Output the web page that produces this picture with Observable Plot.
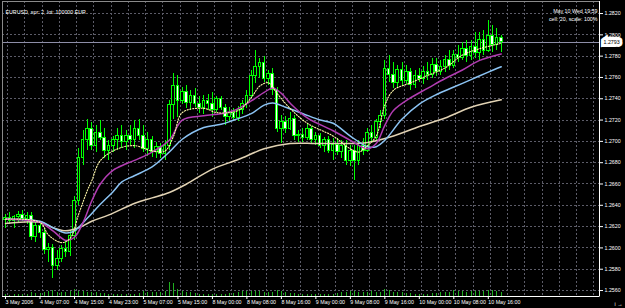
<!DOCTYPE html>
<html><head><meta charset="utf-8">
<script src="https://cdn.jsdelivr.net/npm/d3@7"></script>
<script src="https://cdn.jsdelivr.net/npm/@observablehq/plot@0.6"></script>
<style>
html,body{margin:0;padding:0;background:#000;}
#chart{position:relative;width:625px;height:308px;background:#000;overflow:hidden;}
#chart svg{position:absolute;left:0;top:0;}
</style></head><body><div id="chart"></div>
<script>
const symbolInfo = "EURUSD, spr: 2, lot: 100000 EUR";
const infoTime = "May 10 Wed 19:59";
const infoScale = "cell: 20, scale: 100%";

// H1 bars, 3 May 23:00 .. 10 May 19:00 (index 0..115)
const open  = [1.2626,1.2628,1.2625,1.2629,1.2631,1.2627,1.2630,1.2610,1.2621,1.2614,1.2598,1.2600,1.2583,1.2590,1.2599,1.2596,1.2611,1.2644,1.2684,1.2701,1.2712,1.2696,1.2708,1.2703,1.2691,1.2696,1.2701,1.2705,1.2699,1.2705,1.2701,1.2712,1.2705,1.2693,1.2701,1.2690,1.2695,1.2688,1.2696,1.2734,1.2752,1.2738,1.2746,1.2736,1.2743,1.2735,1.2731,1.2738,1.2735,1.2729,1.2740,1.2731,1.2723,1.2727,1.2722,1.2729,1.2735,1.2743,1.2761,1.2770,1.2774,1.2759,1.2763,1.2748,1.2712,1.2718,1.2712,1.2721,1.2705,1.2706,1.2703,1.2712,1.2701,1.2705,1.2696,1.2701,1.2691,1.2697,1.2690,1.2696,1.2682,1.2691,1.2682,1.2696,1.2691,1.2708,1.2703,1.2718,1.2724,1.2768,1.2762,1.2755,1.2767,1.2757,1.2765,1.2753,1.2761,1.2759,1.2765,1.2762,1.2772,1.2765,1.2770,1.2776,1.2771,1.2781,1.2778,1.2787,1.2780,1.2789,1.2783,1.2795,1.2785,1.2799,1.2790,1.2797];
const high  = [1.2631,1.2633,1.2630,1.2634,1.2635,1.2633,1.2633,1.2626,1.2624,1.2618,1.2604,1.2603,1.2598,1.2602,1.2607,1.2616,1.2648,1.2693,1.2710,1.2721,1.2718,1.2715,1.2720,1.2712,1.2701,1.2705,1.2712,1.2715,1.2710,1.2715,1.2720,1.2721,1.2715,1.2708,1.2705,1.2699,1.2698,1.2701,1.2738,1.2764,1.2762,1.2751,1.2752,1.2748,1.2750,1.2742,1.2743,1.2744,1.2746,1.2742,1.2742,1.2735,1.2732,1.2731,1.2733,1.2738,1.2748,1.2767,1.2785,1.2778,1.2780,1.2767,1.2768,1.2751,1.2724,1.2723,1.2727,1.2724,1.2710,1.2712,1.2716,1.2714,1.2708,1.2707,1.2704,1.2705,1.2703,1.2703,1.2701,1.2701,1.2696,1.2696,1.2701,1.2703,1.2712,1.2715,1.2721,1.2729,1.2776,1.2781,1.2774,1.2771,1.2774,1.2771,1.2768,1.2767,1.2768,1.2770,1.2774,1.2778,1.2778,1.2776,1.2781,1.2785,1.2785,1.2790,1.2793,1.2795,1.2795,1.2802,1.2802,1.2804,1.2813,1.2809,1.2806,1.2799];
const low   = [1.2618,1.2622,1.2618,1.2624,1.2625,1.2622,1.2607,1.2605,1.2609,1.2594,1.2586,1.2571,1.2579,1.2586,1.2591,1.2592,1.2607,1.2640,1.2677,1.2691,1.2691,1.2690,1.2701,1.2684,1.2682,1.2690,1.2691,1.2693,1.2691,1.2696,1.2693,1.2701,1.2690,1.2686,1.2685,1.2684,1.2684,1.2682,1.2691,1.2721,1.2722,1.2735,1.2731,1.2729,1.2732,1.2726,1.2725,1.2729,1.2722,1.2727,1.2729,1.2715,1.2718,1.2719,1.2719,1.2725,1.2731,1.2740,1.2754,1.2759,1.2755,1.2752,1.2743,1.2708,1.2698,1.2707,1.2710,1.2701,1.2699,1.2699,1.2701,1.2698,1.2696,1.2693,1.2690,1.2689,1.2682,1.2687,1.2684,1.2677,1.2676,1.2663,1.2677,1.2687,1.2690,1.2699,1.2701,1.2712,1.2721,1.2755,1.2750,1.2750,1.2752,1.2753,1.2748,1.2750,1.2755,1.2753,1.2757,1.2759,1.2761,1.2762,1.2765,1.2767,1.2768,1.2774,1.2776,1.2774,1.2776,1.2778,1.2776,1.2781,1.2783,1.2783,1.2785,1.2783];
const close = [1.2628,1.2625,1.2629,1.2631,1.2627,1.2630,1.2610,1.2621,1.2614,1.2598,1.2600,1.2583,1.2590,1.2599,1.2596,1.2611,1.2644,1.2684,1.2701,1.2712,1.2696,1.2708,1.2703,1.2691,1.2696,1.2701,1.2705,1.2699,1.2705,1.2701,1.2712,1.2705,1.2693,1.2701,1.2690,1.2695,1.2688,1.2696,1.2734,1.2752,1.2738,1.2746,1.2736,1.2743,1.2735,1.2731,1.2738,1.2735,1.2729,1.2740,1.2731,1.2723,1.2727,1.2722,1.2729,1.2735,1.2743,1.2761,1.2770,1.2774,1.2759,1.2763,1.2748,1.2712,1.2718,1.2712,1.2721,1.2705,1.2706,1.2703,1.2712,1.2701,1.2705,1.2696,1.2701,1.2691,1.2697,1.2690,1.2696,1.2682,1.2691,1.2682,1.2696,1.2691,1.2708,1.2703,1.2718,1.2724,1.2768,1.2762,1.2755,1.2767,1.2757,1.2765,1.2753,1.2761,1.2759,1.2765,1.2762,1.2772,1.2765,1.2770,1.2776,1.2771,1.2781,1.2778,1.2787,1.2780,1.2789,1.2783,1.2795,1.2785,1.2799,1.2790,1.2797,1.2793];
const volume = [40,35,50,45,40,60,90,80,70,110,120,140,100,90,110,120,170,150,130,110,100,90,80,70,50,40,45,50,40,45,60,80,120,100,90,100,110,130,340,320,170,120,110,90,80,60,50,40,
  60,50,55,60,70,80,110,120,140,160,130,120,110,100,90,140,120,100,80,70,60,50,45,40,
  45,40,50,55,60,80,100,110,120,130,110,100,90,120,110,100,180,140,110,100,90,80,70,60,
  60,55,60,70,80,90,100,110,150,130,120,110,120,130,140,150,160,140,120,100];

// moving averages (bar index, price)
const maSlowIdx = [0,8,11,14,17,20,24,30,34,38,42,48,54,60,66,72,78,84,90,96,102,108,115];
const maSlowVal = [1.2623,1.2624,1.2619,1.2616,1.2619,1.2625,1.2631,1.2642,1.2647,1.2652,1.2660,1.2674,1.2683,1.2693,1.2698,1.2698,1.2698,1.2699,1.2705,1.2714,1.2722,1.2732,1.2739];
const maBlueIdx = [0,8,11,14,16,19,22,25,27,30,34,38,41,46,50,53,57,60,62,65,69,73,76,80,84,86,88,92,96,100,104,108,112,115];
const maBlueVal = [1.2627,1.2625,1.2619,1.2614,1.2616,1.2628,1.2641,1.2653,1.2662,1.2668,1.2676,1.2690,1.2702,1.2713,1.2716,1.2720,1.2726,1.2734,1.2736,1.2732,1.2726,1.2720,1.2717,1.2705,1.2695,1.2695,1.2701,1.2721,1.2735,1.2744,1.2751,1.2758,1.2765,1.2770];
const maMagIdx = [0,8,11,14,16,18,20,22,25,28,31,34,38,41,46,50,53,57,60,62,64,66,70,76,80,84,86,88,90,94,98,102,106,110,115];
const maMagVal = [1.2627,1.2624,1.2616,1.2607,1.2610,1.2624,1.2644,1.2660,1.2673,1.2679,1.2684,1.2690,1.2701,1.2720,1.2724,1.2726,1.2729,1.2738,1.2746,1.2750,1.2745,1.2736,1.2722,1.2710,1.2701,1.2693,1.2698,1.2715,1.2729,1.2741,1.2750,1.2759,1.2767,1.2776,1.2782];
const maFastIdx = [0,8,10,13,15,17,19,20,22,26,30,34,37,39,41,46,49,54,57,59,61,63,66,70,76,80,82,84,86,88,90,94,98,102,106,110,115];
const maFastVal = [1.2627,1.2624,1.2612,1.2605,1.2609,1.2632,1.2654,1.2663,1.2682,1.2693,1.2696,1.2691,1.2691,1.2705,1.2727,1.2731,1.2727,1.2729,1.2741,1.2752,1.2755,1.2745,1.2731,1.2717,1.2705,1.2693,1.2690,1.2696,1.2705,1.2734,1.2748,1.2755,1.2762,1.2769,1.2781,1.2787,1.2792];

const xLabelIdx = [0,8,16,24,32,40,48,56,64,72,80,88,96,104,112];
const xLabels = ["3 May 2006","4 May 07:00","4 May 15:00","4 May 23:00","5 May 07:00","5 May 15:00","8 May 00:00","8 May 08:00","8 May 16:00","9 May 00:00","9 May 08:00","9 May 16:00","10 May 00:00","10 May 08:00","10 May 16:00"];
const yTicks = [1.2560,1.2580,1.2600,1.2620,1.2640,1.2660,1.2680,1.2700,1.2720,1.2740,1.2760,1.2780,1.2800,1.2820];

const bars = open.map((o, i) => ({i, open: o, high: high[i], low: low[i], close: close[i], vol: volume[i]}));
const lastClose = close[close.length - 1];
const pts = (idx, val) => idx.map((d, k) => ({i: d, v: val[k]}));

const xDomain = [-0.7, 137.8];
const yDomain = [1.25544, 1.28313];
const font = "'Liberation Sans', Arial, sans-serif";
const gridColor = "#5c5c68";
const fmt = d3.format(".4f");
const crisp = "crispEdges";

const common = {width: 625, height: 308, marginLeft: 2, marginRight: 26, marginBottom: 12};

const volPlot = Plot.plot({
  ...common, marginTop: 256,
  style: {background: "transparent"},
  x: {domain: xDomain, axis: null},
  y: {domain: [0, 1000], axis: null},
  marks: [Plot.ruleX(bars, {x: "i", y1: 0, y2: "vol", stroke: "#1fb01f", shapeRendering: crisp})]
});

const mainPlot = Plot.plot({
  ...common, marginTop: 1,
  style: {background: "transparent", color: "#fff", fontFamily: font, fontSize: "5.3px"},
  x: {domain: xDomain, axis: null},
  y: {domain: yDomain, axis: null},
  marks: [
    Plot.ruleY(yTicks, {stroke: gridColor, strokeDasharray: "2,2", shapeRendering: crisp}),
    Plot.ruleX(d3.range(0.5, 138, 4), {stroke: gridColor, strokeDasharray: "2,2", shapeRendering: crisp}),
    Plot.ruleY([lastClose], {stroke: "#8e8ea8", shapeRendering: crisp}),
    Plot.ruleX(bars, {x: "i", y1: "low", y2: "high", stroke: "#00ff00", shapeRendering: crisp}),
    Plot.rect(bars, {x1: d => d.i - 0.3, x2: d => d.i + 0.3, y1: "open", y2: "close",
      fill: d => d.close >= d.open ? "#000" : "#fff", stroke: "#00ff00", strokeWidth: 1, shapeRendering: crisp}),
    Plot.line(pts(maSlowIdx, maSlowVal), {x: "i", y: "v", stroke: "#e2d3b4", curve: "catmull-rom"}),
    Plot.line(pts(maBlueIdx, maBlueVal), {x: "i", y: "v", stroke: "#8cc4f4", curve: "catmull-rom"}),
    Plot.line(pts(maMagIdx, maMagVal), {x: "i", y: "v", stroke: "#b23cb2", curve: "catmull-rom"}),
    Plot.line(pts(maFastIdx, maFastVal), {x: "i", y: "v", stroke: "#fff8a8", strokeWidth: 1.1, strokeDasharray: "1.2,1.6", curve: "catmull-rom"}),
    Plot.frame({stroke: "#8a8a8a", shapeRendering: crisp}),
    Plot.ruleX([xDomain[1]], {stroke: "#fff", shapeRendering: crisp}),
    Plot.ruleY([yDomain[0]], {stroke: "#fff", shapeRendering: crisp}),
    Plot.axisY({anchor: "right", ticks: yTicks, tickFormat: fmt, tickSize: 3, tickPadding: 2, stroke: "#fff", fill: "#fff"}),
    Plot.axisX({anchor: "bottom", ticks: xLabelIdx, tickFormat: d => xLabels[xLabelIdx.indexOf(d)], textAnchor: "start", tickSize: 3, tickPadding: 1, stroke: "#fff", fill: "#fff"}),
    Plot.text([lastClose], {y: d => d, frameAnchor: "right", dx: 4, textAnchor: "start", text: d => fmt(d),
      fill: "#000", stroke: "#fff", strokeWidth: 6, strokeLinejoin: "miter"}),
    Plot.text([symbolInfo], {frameAnchor: "top-left", dx: 3, dy: 9, textAnchor: "start", fill: "#fff"}),
    Plot.text([infoTime], {frameAnchor: "top-right", dx: -2, dy: 8, textAnchor: "end", fill: "#fff"}),
    Plot.text([infoScale], {frameAnchor: "top-right", dx: -2, dy: 15.7, textAnchor: "end", fill: "#fff"})
  ]
});

const el = document.getElementById("chart");
el.appendChild(volPlot);
el.appendChild(mainPlot);
</script></body></html>
